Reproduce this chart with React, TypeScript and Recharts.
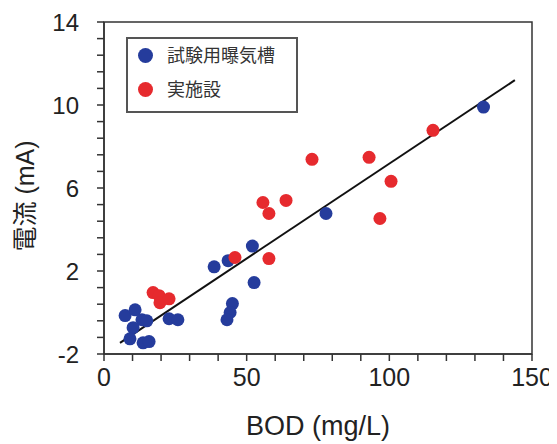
import { ScatterChart, Scatter, XAxis, YAxis, ReferenceLine, ReferenceArea, Legend } from "recharts";

// 試験用曝気槽 (test aeration tank)
const tankBod = [133, 77.8, 52, 52.6, 38.6, 43.5, 45, 44.2, 43.1, 7.4, 10.9, 13.3, 15, 10.2, 9.1, 13.7, 15.8, 22.8, 25.9];
const tankCurrent = [9.9, 4.77, 3.2, 1.44, 2.2, 2.5, 0.43, 0.0, -0.35, -0.15, 0.13, -0.35, -0.4, -0.73, -1.27, -1.46, -1.4, -0.3, -0.35];

// 実施設 (real plant)
const plantBod = [55.7, 57.8, 57.8, 45.9, 17.2, 19.3, 19.6, 22.8, 72.9, 92.9, 100.6, 96.7, 115.3, 63.8];
const plantCurrent = [5.3, 4.77, 2.6, 2.65, 0.96, 0.81, 0.47, 0.66, 7.38, 7.48, 6.32, 4.53, 8.78, 5.4];

// regression line end points
const fitBod = [5.6, 144];
const fitCurrent = [-1.46, 11.2];

const seriesNames = ["試験用曝気槽", "実施設"];
const seriesColors = ["#253c9c", "#e62a2e"];

const xLabels = [0, 50, 100, 150];
const yLabels = [-2, 2, 6, 10, 14];
const xTicks = Array.from({ length: 16 }, (_, i) => i * 10);
const yTicks = Array.from({ length: 21 }, (_, i) => Math.round((-2 + i * 0.8) * 10) / 10);

const toPoints = (xs: number[], ys: number[]) => xs.map((x, i) => ({ x, y: ys[i] }));
const tankData = toPoints(tankBod, tankCurrent);
const plantData = toPoints(plantBod, plantCurrent);

const axisColor = "#333";
const latin = "'Liberation Sans', Arial, sans-serif";
const cjk = "'Liberation Sans', 'Noto Sans CJK JP', sans-serif";

const dot = (color: string) => (p: any) => <circle cx={p.cx} cy={p.cy} r={6.5} fill={color} />;

const XTitle = ({ viewBox }: any) => (
  <text x={viewBox.x + viewBox.width / 2} y={viewBox.y + 81} textAnchor="middle" fontSize={27} fontFamily={latin} fill="#222">
    BOD (mg/L)
  </text>
);

const YTitle = ({ viewBox }: any) => {
  const cx = 17;
  const cy = viewBox.y + viewBox.height / 2 + 8;
  return (
    <text x={cx} y={cy} textAnchor="middle" dominantBaseline="central" fontSize={25} fontFamily={cjk} fill="#222" transform={`rotate(-90 ${cx} ${cy})`}>
      電流 (mA)
    </text>
  );
};

const LegendBox = () => (
  <div style={{ position: "relative", width: 172, height: 76, boxSizing: "border-box", border: "2px solid #555", background: "#fff" }}>
    {seriesNames.map((name, i) => (
      <div key={name}>
        <span style={{ position: "absolute", left: 19 - 7.5 - 2, top: 18 + i * 34 - 7.5 - 2, width: 15, height: 15, borderRadius: "50%", background: seriesColors[i] }} />
        <span style={{ position: "absolute", left: 39, top: 18 + i * 34 - 14 - 2, lineHeight: "26px", fontSize: 18, fontFamily: "'Noto Sans CJK JP', sans-serif", color: "#333", whiteSpace: "nowrap" }}>
          {name}
        </span>
      </div>
    ))}
  </div>
);

export default function App() {
  return (
    <div style={{ width: 549, height: 436 }}>
      <ScatterChart width={549} height={436} margin={{ top: 14, right: 25, bottom: 8, left: 0 }}>
        <XAxis
          type="number"
          dataKey="x"
          domain={[0, 150]}
          ticks={xTicks}
          interval={0}
          tickFormatter={(v: number) => (xLabels.includes(v) ? String(v) : "")}
          height={82}
          tickSize={7}
          tickMargin={7}
          axisLine={{ stroke: axisColor, strokeWidth: 1.5 }}
          tickLine={{ stroke: axisColor, strokeWidth: 1.5 }}
          tick={{ fill: "#222", fontSize: 25, fontFamily: latin }}
          label={{ content: XTitle }}
        />
        <YAxis
          type="number"
          dataKey="y"
          domain={[-2, 14]}
          ticks={yTicks}
          interval={0}
          tickFormatter={(v: number) => (yLabels.includes(v) ? String(v) : "")}
          width={96}
          tickSize={7}
          tickMargin={18}
          axisLine={{ stroke: axisColor, strokeWidth: 1.5 }}
          tickLine={{ stroke: axisColor, strokeWidth: 1.5 }}
          tick={{ fill: "#222", fontSize: 24, fontFamily: latin }}
          label={{ content: YTitle }}
        />
        <ReferenceArea x1={0} x2={150} y1={-2} y2={14} fill="none" fillOpacity={0} stroke={axisColor} strokeWidth={1.5} />
        <ReferenceLine
          segment={[
            { x: fitBod[0], y: fitCurrent[0] },
            { x: fitBod[1], y: fitCurrent[1] },
          ]}
          stroke="#111"
          strokeWidth={2}
        />
        <Scatter name={seriesNames[0]} data={tankData} fill={seriesColors[0]} shape={dot(seriesColors[0])} isAnimationActive={false} />
        <Scatter name={seriesNames[1]} data={plantData} fill={seriesColors[1]} shape={dot(seriesColors[1])} isAnimationActive={false} />
        <Legend
          layout="vertical"
          align="center"
          verticalAlign="middle"
          content={<LegendBox />}
          wrapperStyle={{ left: 118, top: 29, width: 172, height: 76 }}
        />
      </ScatterChart>
    </div>
  );
}
